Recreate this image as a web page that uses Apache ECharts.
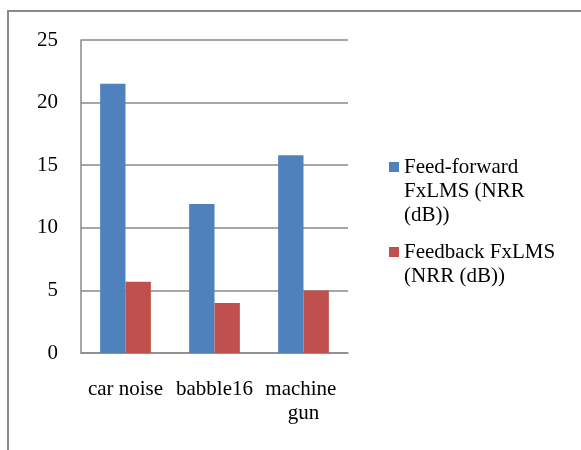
<!DOCTYPE html>
<html>
<head>
<meta charset="utf-8">
<script src="https://cdn.jsdelivr.net/npm/echarts@6/dist/echarts.min.js"></script>
<style>
html,body{margin:0;padding:0;background:#fff;}
#chart{width:581px;height:450px;}
</style>
</head>
<body>
<div id="chart"></div>
<script>
var categories = ['car noise', 'babble16', 'machine gun'];
var feedForward = [21.5, 11.9, 15.8];
var feedback = [5.7, 4.0, 5.0];
var seriesNames = ['Feed-forward FxLMS (NRR (dB))', 'Feedback FxLMS (NRR (dB))'];
var legendLines = [['Feed-forward', 'FxLMS (NRR', '(dB))'], ['Feedback FxLMS', '(NRR (dB))']];
var yTicks = { min: 0, max: 25, interval: 5 };

var FONT = "'Liberation Serif', 'Times New Roman', serif";
var GRAY = '#8a8a8a';

var chart = echarts.init(document.getElementById('chart'), null, { renderer: 'canvas' });

chart.setOption({
  animation: false,
  backgroundColor: '#fff',
  graphic: [{
    type: 'rect',
    shape: { x: 8, y: 11, width: 700, height: 600 },
    style: { fill: 'none', stroke: GRAY, lineWidth: 2 },
    silent: true,
    z: -10
  }],
  grid: { left: 81, right: 233, top: 40, bottom: 97, containLabel: false },
  legend: {
    orient: 'vertical',
    left: 389,
    top: 107,
    padding: 0,
    itemWidth: 10,
    itemHeight: 10,
    itemGap: -11,
    icon: 'rect',
    formatter: function (name) {
      var lines = legendLines[seriesNames.indexOf(name)];
      var pad = '{p' + (lines.length - 1) + '| }';
      return pad + '\n' + lines.map(function (l) { return '{t|' + l + '}'; }).join('\n');
    },
    textStyle: {
      fontFamily: FONT, fontSize: 21, color: '#000', lineHeight: 24,
      rich: {
        t: { fontFamily: FONT, fontSize: 21, color: '#000', lineHeight: 24 },
        p1: { fontSize: 1, lineHeight: 24, height: 24 },
        p2: { fontSize: 1, lineHeight: 48, height: 48 }
      }
    },
    data: seriesNames
  },
  xAxis: {
    type: 'category',
    data: categories,
    axisLine: { show: true, lineStyle: { color: GRAY, width: 1.5 } },
    axisTick: { show: false },
    axisLabel: {
      interval: 0,
      margin: 24,
      fontFamily: FONT,
      fontSize: 21,
      color: '#000',
      lineHeight: 24,
      width: 88,
      overflow: 'break'
    }
  },
  yAxis: {
    type: 'value',
    min: yTicks.min,
    max: yTicks.max,
    interval: yTicks.interval,
    axisLine: { show: true, lineStyle: { color: GRAY, width: 1.5 } },
    axisTick: { show: false },
    splitLine: { show: true, lineStyle: { color: GRAY, width: 1.5 } },
    axisLabel: { margin: 23, fontFamily: FONT, fontSize: 21, color: '#000' }
  },
  series: [
    {
      name: seriesNames[0],
      type: 'bar',
      data: feedForward,
      itemStyle: { color: '#4F81BD' },
      barGap: '0%',
      barCategoryGap: '43%'
    },
    {
      name: seriesNames[1],
      type: 'bar',
      data: feedback,
      itemStyle: { color: '#C0504D' },
      barGap: '0%',
      barCategoryGap: '43%'
    }
  ]
});
</script>
</body>
</html>
